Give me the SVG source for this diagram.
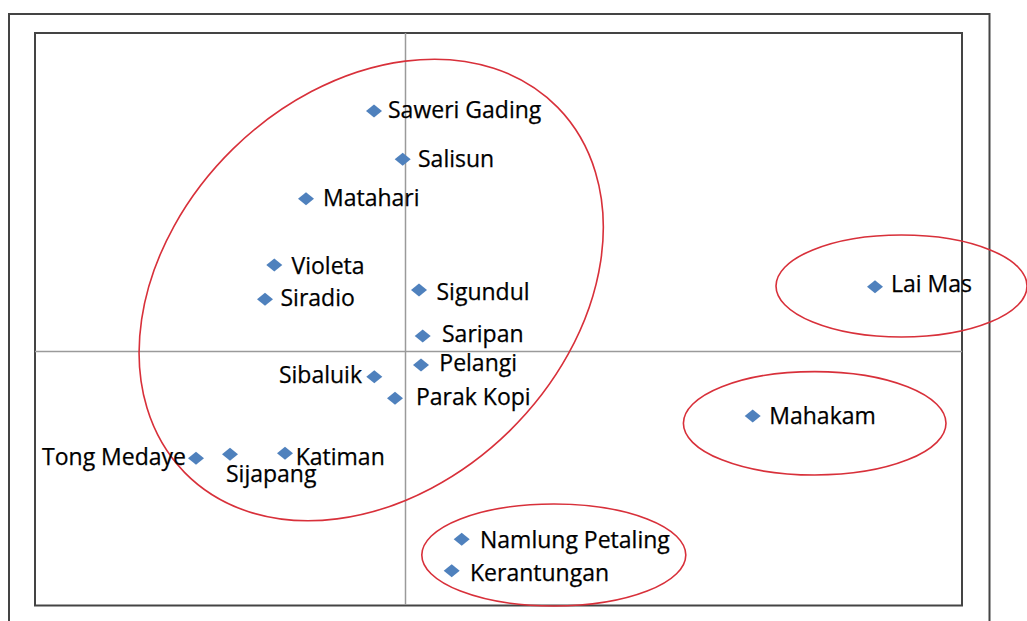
<svg xmlns="http://www.w3.org/2000/svg" xmlns:xlink="http://www.w3.org/1999/xlink" width="1027" height="621" viewBox="0 0 1027 621">
<style>
.frame{fill:none;stroke:#444;stroke-width:2}
.axis{stroke:#9a9a9a;stroke-width:1.5}
.ring{fill:none;stroke:#d8303a;stroke-width:1.6}
.pt{fill:#4f81bd}
.lbl{font-family:"Open Sans","Liberation Sans",sans-serif;font-size:23px;fill:#000;stroke:#000;stroke-width:0.25}
</style>
<defs>
<path id="dm" d="M0,-6.5 L8,0 L0,6.5 L-8,0 Z"/>
</defs>
<rect width="1027" height="621" fill="#fff"/>
<path class="frame" d="M9,630 V14 H989.5 V630" stroke-width="1.5"/>
<rect class="frame" x="35" y="33" width="927" height="572.5"/>
<g id="axes">
<line class="axis" x1="405.5" y1="33" x2="405.5" y2="605"/>
<line class="axis" x1="35" y1="351.5" x2="962" y2="351.5"/>
</g>
<g id="groups">
<ellipse class="ring" cx="371.2" cy="290" rx="261" ry="197.5" transform="rotate(-44.4 371.2 290)"/>
<ellipse class="ring" cx="901.5" cy="286" rx="125.5" ry="51"/>
<ellipse class="ring" cx="814.7" cy="423.3" rx="131.3" ry="51.7"/>
<ellipse class="ring" cx="553.8" cy="555" rx="132" ry="51"/>
</g>
<g id="saweri-gading"><use class="pt" href="#dm" x="374" y="111"/><text class="lbl" x="388" y="118">Saweri Gading</text></g>
<g id="salisun"><use class="pt" href="#dm" x="402.7" y="159.3"/><text class="lbl" x="418" y="167">Salisun</text></g>
<g id="matahari"><use class="pt" href="#dm" x="306" y="198.7"/><text class="lbl" x="323" y="206">Matahari</text></g>
<g id="violeta"><use class="pt" href="#dm" x="274.3" y="265"/><text class="lbl" x="291.5" y="274.3">Violeta</text></g>
<g id="siradio"><use class="pt" href="#dm" x="265" y="299.3"/><text class="lbl" x="280.5" y="306">Siradio</text></g>
<g id="sigundul"><use class="pt" href="#dm" x="419" y="290"/><text class="lbl" x="436.5" y="300">Sigundul</text></g>
<g id="saripan"><use class="pt" href="#dm" x="422.7" y="336"/><text class="lbl" x="442" y="342">Saripan</text></g>
<g id="pelangi"><use class="pt" href="#dm" x="421" y="365"/><text class="lbl" x="439.3" y="371.3">Pelangi</text></g>
<g id="sibaluik"><use class="pt" href="#dm" x="374.3" y="376.7"/><text class="lbl" x="362" y="383.3" text-anchor="end">Sibaluik</text></g>
<g id="parak-kopi"><use class="pt" href="#dm" x="395" y="398.3"/><text class="lbl" x="416" y="405">Parak Kopi</text></g>
<g id="tong-medaye"><use class="pt" href="#dm" x="196" y="458.3"/><text class="lbl" x="186" y="465" text-anchor="end">Tong Medaye</text></g>
<g id="sijapang"><use class="pt" href="#dm" x="230" y="454.3"/><text class="lbl" x="226" y="482.3">Sijapang</text></g>
<g id="katiman"><use class="pt" href="#dm" x="285" y="453.3"/><text class="lbl" x="295.7" y="465">Katiman</text></g>
<g id="namlung-petaling"><use class="pt" href="#dm" x="461.7" y="539.3"/><text class="lbl" x="480" y="548.3">Namlung Petaling</text></g>
<g id="kerantungan"><use class="pt" href="#dm" x="451.7" y="570.7"/><text class="lbl" x="470" y="580.7">Kerantungan</text></g>
<g id="lai-mas"><use class="pt" href="#dm" x="875" y="286.7"/><text class="lbl" x="891" y="291.7">Lai Mas</text></g>
<g id="mahakam"><use class="pt" href="#dm" x="752.7" y="416"/><text class="lbl" x="769.3" y="424">Mahakam</text></g>
</svg>
